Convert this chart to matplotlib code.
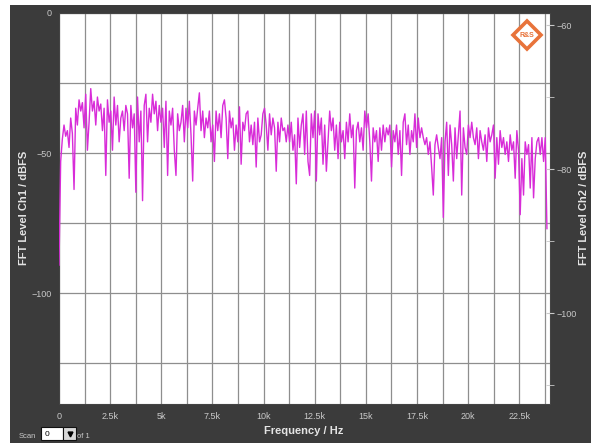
import numpy as np
import matplotlib
matplotlib.use("Agg")
import matplotlib.pyplot as plt
from matplotlib.patches import Rectangle

plt.rcParams["font.family"] = ["Liberation Sans", "DejaVu Sans"]

# ---------- data (dBFS, Ch1) ----------
f_start, f_stop = 0.0, 23850.0

level_dc = [-90]
level_a = [-53, -45, -40, -44, -42, -48, -37.5, -43, -63, -34, -40, -31, -35, -32, -41,
           -29, -49, -39, -27, -35, -31.5, -40, -30, -35, -32.5, -42, -34, -58, -31, -39,
           -35, -49, -30, -40, -33, -46, -37.5, -35, -42, -33, -36, -59, -33, -41, -36,
           -64, -30, -46, -35, -67, -33, -29, -46, -34, -39, -29, -36, -31.5, -42, -33,
           -39, -34, -48, -31.5, -58, -35, -40, -34, -49, -58, -36, -42, -39]
level_b = [-33, -46, -34, -41, -31.5, -43.5, -60, -35, -40, -34, -28.5, -42, -35, -44.5,
           -37.5, -41, -35, -46, -40, -53, -35, -42, -36, -44.5, -33, -31, -37.5, -52, -35,
           -41, -37.5, -49, -40, -46, -33.5, -54, -39, -42, -36, -35, -46, -40, -47, -39,
           -55, -37.5, -46, -43.5, -36, -34, -40, -49, -36, -43.5, -37.5, -41, -56.5, -39,
           -46, -37.5, -42, -41, -46, -40, -46, -39, -49, -43.5, -61, -37.5, -48, -40]
level_c = [-36, -50.5, -35, -53, -58, -36, -44.5, -35, -60, -36, -43.5, -37.5, -54, -40,
           -56.5, -46, -35, -42, -37.5, -49, -40, -52, -39, -46, -42, -52, -39, -46, -36,
           -44.5, -40, -62.5, -42, -39, -46, -41, -49, -35, -41, -36, -46, -60, -41, -46,
           -42, -53, -41, -49, -40, -46, -41, -43.5, -40, -55, -42, -46, -40, -50.5, -42,
           -58, -39, -36, -47, -40, -50.5, -42, -46, -36, -48, -37.5, -44.5, -41]
level_d = [-44.5, -47, -44.5, -50.5, -46, -55, -65, -47, -43.5, -48, -52, -44.5, -73, -46,
           -39, -58, -40, -47, -60, -41, -52, -43.5, -35, -65, -41, -48, -50.5, -40, -44.5,
           -39, -44.5, -47, -41, -52, -42, -46, -49, -43.5, -53, -41, -46, -43.5, -40, -59,
           -44.5, -54, -42, -48, -44.5, -50.5, -46, -53, -43.5, -49, -46, -59, -42, -49,
           -72, -52, -65, -46, -50.5, -47, -62.5, -44.5, -66, -52, -46, -44.5, -50.5,
           -44.5, -53, -44.5, -77]

level = np.array(level_dc + level_a + level_b + level_c + level_d, dtype=float)
freq = np.linspace(f_start, f_stop, len(level))

x_ticks = [0, 2500, 5000, 7500, 10000, 12500, 15000, 17500, 20000, 22500]
x_labels = ["0", "2.5k", "5k", "7.5k", "10k", "12.5k", "15k", "17.5k", "20k", "22.5k"]
y1_ticks = [0, -50, -100]
y2_ticks = [-60, -80, -100]

# ---------- figure ----------
bg = "#3b3b3b"
txt = "#c9c9c9"
lbl = "#e4e4e4"

fig = plt.figure(figsize=(5.91, 4.43), dpi=100, facecolor="white")
fig.patches.append(Rectangle((10 / 591, 0), 1, 1 - 5 / 443, transform=fig.transFigure,
                             facecolor=bg, edgecolor="none", zorder=-10))

ax = fig.add_axes([59 / 591, 39 / 443, 491 / 591, 391 / 443])
ax.set_facecolor("white")
ax.plot(freq, level, color="#d82cd8", linewidth=1.0, zorder=3)

ax.set_xlim(0, 24000)
ax.set_ylim(-139.6, 0)

ax.set_xticks(x_ticks)
ax.set_xticklabels(x_labels)
ax.set_xticks(np.arange(0, 24000, 1250), minor=True)
ax.set_yticks(y1_ticks)
ax.set_yticks(np.arange(-125, 0, 25), minor=True)
ax.grid(which="both", color="#8e8e8e", linewidth=0.9)
ax.tick_params(which="both", length=0, colors=txt, labelsize=6.5)
ax.tick_params(axis="x", pad=6)
ax.tick_params(axis="y", pad=5)
for s in ax.spines.values():
    s.set_color("#444444")

ax2 = ax.twinx()
ax2.set_ylim(-112.6, -58.33)
ax2.set_yticks(y2_ticks)
ax2.set_yticks([-70, -90, -110], minor=True)
ax2.tick_params(which="both", direction="inout", length=6, colors=txt, labelsize=6.5, pad=2)
for s in ax2.spines.values():
    s.set_visible(False)

# axis titles
fig.text(304 / 591, 1 - 431 / 443, "Frequency / Hz", color=lbl, fontsize=8,
         fontweight="bold", ha="center", va="center")
fig.text(24 / 591, 1 - 208 / 443, "FFT Level Ch1 / dBFS", color=lbl, fontsize=8,
         fontweight="bold", ha="center", va="center", rotation=90)
fig.text(584 / 591, 1 - 208 / 443, "FFT Level Ch2 / dBFS", color=lbl, fontsize=8,
         fontweight="bold", ha="center", va="center", rotation=90)

# R&S logo
ax.plot([0.9525], [0.9437], marker="D", ms=14, mfc="white", mec="#e8733a", mew=2.6,
        transform=ax.transAxes, zorder=6, clip_on=False)
ax.text(0.9525, 0.9437, "R&S", transform=ax.transAxes, ha="center", va="center",
        fontsize=5, fontweight="bold", color="#e8733a", zorder=7)

# scan widget
fig.text(19 / 591, 1 - 436 / 443, "Scan", color=txt, fontsize=5.5, va="center")
fig.patches.append(Rectangle((41 / 591, 1 - 440 / 443), 22 / 591, 13 / 443,
                             transform=fig.transFigure, facecolor="white",
                             edgecolor="#111111", linewidth=0.8))
fig.patches.append(Rectangle((63 / 591, 1 - 440 / 443), 13 / 591, 13 / 443,
                             transform=fig.transFigure, facecolor="#d8d8d8",
                             edgecolor="#111111", linewidth=0.8))
fig.text(45 / 591, 1 - 434 / 443, "0", color="black", fontsize=6, va="center")
fig.lines.append(plt.Line2D([69.5 / 591], [1 - 434 / 443], marker="v", ms=3.5,
                            color="black", transform=fig.transFigure))
fig.text(77 / 591, 1 - 436 / 443, "of 1", color=txt, fontsize=5.5, va="center")

fig.savefig("out.png", dpi=100, facecolor=fig.get_facecolor())
